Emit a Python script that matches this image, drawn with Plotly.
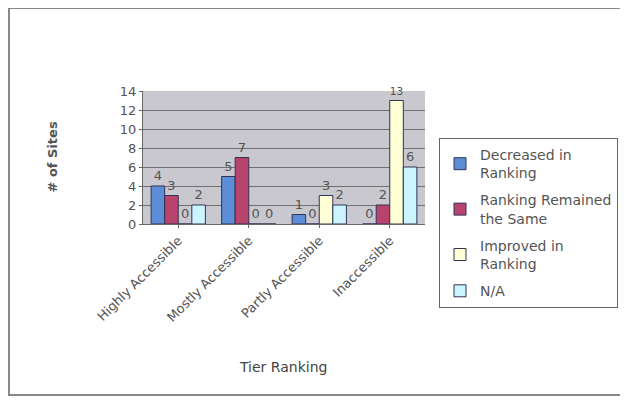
import plotly.graph_objects as go

categories = ["Highly Accessible", "Mostly Accessible", "Partly Accessible", "Inaccessible"]
series_names = ["Decreased in<br>Ranking", "Ranking Remained<br>the Same", "Improved in<br>Ranking", "N/A"]
decreased = [4, 5, 1, 0]
remained = [3, 7, 0, 2]
improved = [0, 0, 3, 13]
na = [2, 0, 2, 6]
y_ticks = [0, 2, 4, 6, 8, 10, 12, 14]

colors = ["#5b8ed6", "#b8446e", "#ffffd6", "#ccf4ff"]
values = [decreased, remained, improved, na]

FONT = "DejaVu Sans"

fig = go.Figure()
for i, (name, vals, col) in enumerate(zip(series_names, values, colors)):
    fig.add_trace(go.Bar(
        x=categories, y=vals, name=name, legendgroup=f"g{i}",
        marker=dict(color=col, line=dict(color="#333355", width=1)),
        text=[str(v) for v in vals], textposition="outside",
        textfont=dict(size=13, color="#555", family=FONT),
        cliponaxis=False,
    ))

# page offset of 8px (body margin) is accounted for in the layout below
PL, PR, PT, PB = 135, 417, 83, 216
W, H = 620, 394
pw, ph = PR - PL, PB - PT

fig.update_layout(
    width=W, height=H,
    barmode="group", bargap=0.23, bargroupgap=0,
    paper_bgcolor="white", plot_bgcolor="#c8c8ce",
    margin=dict(l=PL, r=W - PR, t=PT, b=H - PB, autoexpand=False),
    font=dict(family=FONT, size=13, color="#444"),
    showlegend=True,
    legend=dict(
        x=(431 - PL) / pw, y=(PB - 130) / ph, xanchor="left", yanchor="top",
        bordercolor="#666", borderwidth=1, bgcolor="white",
        font=dict(size=14, color="#555", family=FONT),
        tracegroupgap=6, maxheight=400, itemwidth=30,
    ),
    xaxis=dict(
        tickangle=-45, showline=True, linecolor="#666", linewidth=1,
        ticks="outside", ticklen=3, tickcolor="#666",
        tickfont=dict(size=13, color="#555", family=FONT),
    ),
    yaxis=dict(
        range=[0, 14], tickvals=y_ticks, showgrid=True, gridcolor="#707070", gridwidth=1,
        showline=True, linecolor="#666", linewidth=1, zeroline=False,
        ticks="outside", ticklen=3, tickcolor="#666",
        tickfont=dict(size=13, color="#555", family=FONT),
    ),
)

fig.add_annotation(text="<b># of Sites</b>", textangle=-90, showarrow=False,
                   xref="paper", yref="paper", x=(34 - PL) / pw, y=(PB - 149) / ph,
                   font=dict(size=13, color="#555", family=FONT))
fig.add_annotation(text="Tier Ranking", showarrow=False,
                   xref="paper", yref="paper", x=(275 - PL) / pw, y=(PB - 369) / ph,
                   font=dict(size=14, color="#444", family=FONT))

fig.add_shape(type="rect", xref="paper", yref="paper",
              x0=(1 - PL) / pw, x1=(617 - PL) / pw,
              y0=(PB - 387) / ph, y1=(PB - 0) / ph,
              line=dict(color="#888", width=2), fillcolor="rgba(0,0,0,0)", layer="below")

fig.write_html("out.html")
